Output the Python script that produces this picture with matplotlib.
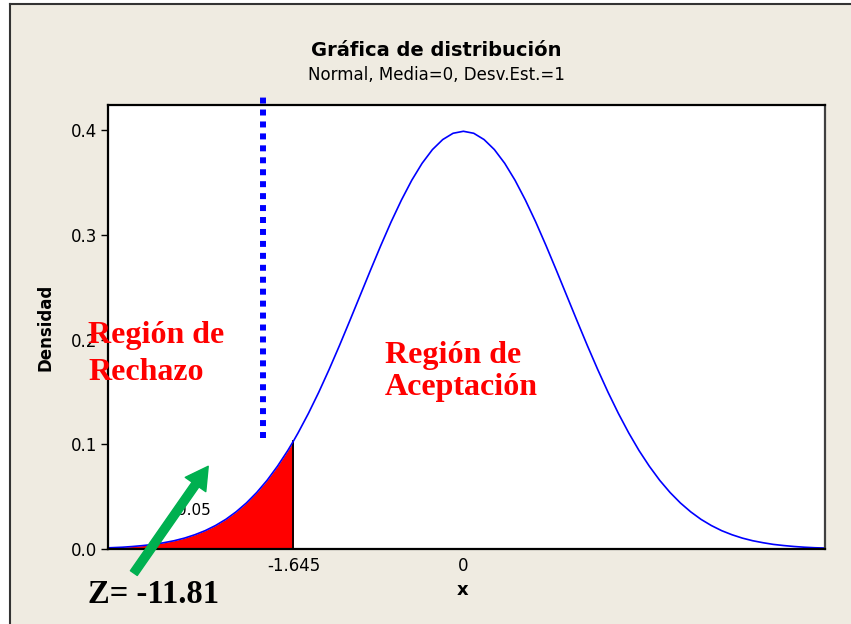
# gráfica de distribución normal con región de rechazo (cola izquierda)
import matplotlib.pyplot as plt
from matplotlib.lines import Line2D

# densidad (Normal, media 0, desv. est. 1)
x_curva = [-3.44, -3.3, -3.2, -3.1, -3.0, -2.9, -2.8, -2.7, -2.6, -2.5,
           -2.4, -2.3, -2.2, -2.1, -2.0, -1.9, -1.8, -1.7, -1.645,
           -1.6, -1.5, -1.4, -1.3, -1.2, -1.1, -1.0, -0.9, -0.8, -0.7,
           -0.6, -0.5, -0.4, -0.3, -0.2, -0.1, 0.0,
           0.1, 0.2, 0.3, 0.4, 0.5, 0.6, 0.7, 0.8, 0.9, 1.0,
           1.1, 1.2, 1.3, 1.4, 1.5, 1.6, 1.7, 1.8, 1.9, 2.0,
           2.1, 2.2, 2.3, 2.4, 2.5, 2.6, 2.7, 2.8, 2.9, 3.0,
           3.1, 3.2, 3.3, 3.4, 3.5]
y_curva = [0.0011, 0.0017, 0.0024, 0.0033, 0.0044, 0.0060, 0.0079, 0.0104, 0.0136, 0.0175,
           0.0224, 0.0283, 0.0355, 0.0440, 0.0540, 0.0656, 0.0790, 0.0940, 0.1031,
           0.1109, 0.1295, 0.1497, 0.1714, 0.1942, 0.2179, 0.2420, 0.2661, 0.2897, 0.3123,
           0.3332, 0.3521, 0.3683, 0.3814, 0.3910, 0.3970, 0.3989,
           0.3970, 0.3910, 0.3814, 0.3683, 0.3521, 0.3332, 0.3123, 0.2897, 0.2661, 0.2420,
           0.2179, 0.1942, 0.1714, 0.1497, 0.1295, 0.1109, 0.0940, 0.0790, 0.0656, 0.0540,
           0.0440, 0.0355, 0.0283, 0.0224, 0.0175, 0.0136, 0.0104, 0.0079, 0.0060, 0.0044,
           0.0033, 0.0024, 0.0017, 0.0012, 0.0009]

z_critico = -1.645
alfa = "0.05"
z_calc = "Z= -11.81"
x_ticks = [-1.645, 0]
x_tick_labels = ["-1.645", "0"]
y_ticks = [0.0, 0.1, 0.2, 0.3, 0.4]
y_tick_labels = ["0.0", "0.1", "0.2", "0.3", "0.4"]
# línea punteada (posición aproximada del valor crítico dibujado)
x_punteada = [-1.94, -1.94]
y_punteada = [0.106, 0.436]
# flecha verde
flecha_ini = (-3.19, -0.023)
flecha_fin = (-2.47, 0.079)

W, H = 851, 624
fig = plt.figure(figsize=(W / 100, H / 100), dpi=100, facecolor="white")


def px(x, y):  # píxeles -> fracción de figura
    return x / W, 1 - y / H


# fondo beige con borde
fondo = plt.Rectangle((10 / W, -0.1), 1, 1.1 - 4 / H, transform=fig.transFigure,
                      facecolor="#efebe1", edgecolor="none", zorder=-10)
fig.patches.append(fondo)
fig.add_artist(Line2D([10 / W, 10 / W], [0, 1 - 4 / H], color="#333333", lw=1.5))
fig.add_artist(Line2D([10 / W, 1], [1 - 4 / H, 1 - 4 / H], color="#333333", lw=1.5))

l, b = px(108, 549)
r, t = px(825, 105)
ax = fig.add_axes([l, b, r - l, t - b])
ax.set_facecolor("white")

# región de rechazo
n = x_curva.index(z_critico) + 1
ax.fill_between(x_curva[:n], y_curva[:n], 0, color="red", lw=0)
ax.plot([z_critico, z_critico], [0, y_curva[n - 1]], color="black", lw=1.3)
ax.plot(x_curva, y_curva, color="blue", lw=1.2)

ax.plot(x_punteada, y_punteada, color="blue", lw=4.3, linestyle=(0, (1, 1)),
        dash_capstyle="butt", clip_on=False)

ax.set_xlim(-3.44, 3.5)
ax.set_ylim(0, 0.424)
ax.set_xticks(x_ticks, x_tick_labels)
ax.set_yticks(y_ticks, y_tick_labels)
ax.tick_params(axis="x", length=0, pad=6, labelsize=12)
ax.tick_params(axis="y", length=5, width=1, pad=3, labelsize=12)
for s in ax.spines.values():
    s.set_linewidth(1.6)
ax.spines["right"].set_color("#404040")

ax.text(-2.61, 0.037, alfa, fontsize=11, ha="center", va="center")
ax.annotate("", xy=flecha_fin, xytext=flecha_ini, annotation_clip=False,
            arrowprops=dict(color="#00b050", width=6, headwidth=18, headlength=16, shrink=0))

# textos
fig.text(*px(436, 56), "Gráfica de distribución", fontsize=14, fontweight="bold", ha="center", va="baseline")
fig.text(*px(436, 80), "Normal, Media=0, Desv.Est.=1", fontsize=12, ha="center", va="baseline")
fig.text(*px(45, 327), "Densidad", fontsize=12, fontweight="bold", rotation=90, ha="center", va="center")
fig.text(*px(463, 590), "x", fontsize=13, fontweight="bold", ha="center", va="center")

rojo = dict(fontsize=23, fontweight="bold", color="red", family="Liberation Serif", va="baseline")
fig.text(*px(88, 343), "Región de", **rojo)
fig.text(*px(88, 380), "Rechazo", **rojo)
fig.text(*px(385, 363), "Región de", **rojo)
fig.text(*px(385, 395), "Aceptación", **rojo)
fig.text(*px(88, 603), z_calc, fontsize=23.5, fontweight="bold", color="black",
         family="Liberation Serif", va="baseline")

plt.savefig("out.png", dpi=100)
